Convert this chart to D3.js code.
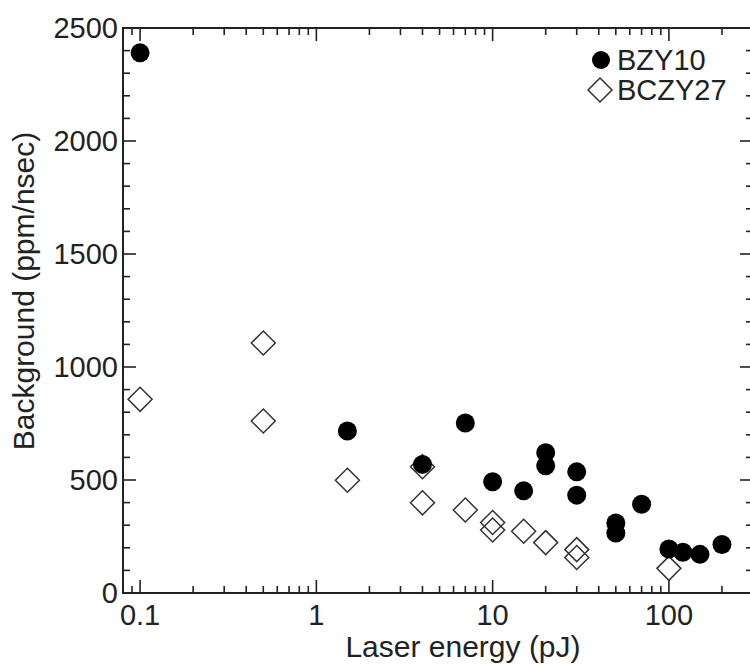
<!DOCTYPE html>
<html>
<head>
<meta charset="utf-8">
<script src="https://cdn.jsdelivr.net/npm/d3@7"></script>
<style>
  html, body { margin: 0; padding: 0; background: #fff; }
  svg { display: block; }
  text { font-family: "Liberation Sans", Arial, Helvetica, sans-serif; fill: #222; }
</style>
</head>
<body>
<svg id="chart" width="750" height="665"></svg>
<script>
// Background count rate vs. laser pulse energy for two proton conductors
const bzyEnergy     = [0.1, 1.5, 4, 7, 10, 15, 20, 20, 30, 30, 50, 50, 70, 100, 120, 150, 200];
const bzyBackground = [2390, 717, 569, 752, 492, 452, 621, 563, 536, 433, 310, 265, 393, 195, 180, 171, 215];

const bczyEnergy     = [0.1, 0.5, 0.5, 1.5, 4, 4, 7, 10, 10, 15, 20, 30, 30, 100];
const bczyBackground = [857, 1106, 761, 499, 559, 399, 367, 312, 279, 273, 223, 192, 157, 109];

const xTickLabels = ["0.1", "1", "10", "100"];
const yTickLabels = ["0", "500", "1000", "1500", "2000", "2500"];

const seriesNames = ["BZY10", "BCZY27"];

const W = 750, H = 665;
const margin = { left: 123, top: 28, right: 753, bottom: 593 };

const svg = d3.select("#chart");

const x = d3.scaleLog().domain([0.08, 300]).range([margin.left, margin.right]);
const y = d3.scaleLinear().domain([0, 2500]).range([margin.bottom, margin.top]);

const axisColor = "#222";
const majorLen = 13, minorLen = 7;

// log-axis tick positions: majors at decades, minors at 2..9 x decade
const xMajor = xTickLabels.map(Number);
const xMinor = [];
for (let d = -2; d <= 2; d++) {
  for (let k = 2; k <= 9; k++) {
    const v = k * Math.pow(10, d);
    if (v > 0.08 && v < 300) xMinor.push(+v.toPrecision(3));
  }
}
const yMajor = yTickLabels.map(Number);
const yMinor = d3.range(100, 2500, 100).filter(v => v % 500 !== 0);

// frame
const gAxes = svg.append("g");
gAxes.append("rect")
  .attr("x", margin.left).attr("y", margin.top)
  .attr("width", margin.right - margin.left)
  .attr("height", margin.bottom - margin.top)
  .attr("fill", "none").attr("stroke", axisColor).attr("stroke-width", 2);

// bottom/top ticks point inward
function xTicks(vals, len) {
  vals.forEach(v => {
    const px = x(v);
    gAxes.append("line").attr("x1", px).attr("x2", px)
      .attr("y1", margin.bottom).attr("y2", margin.bottom - len)
      .attr("stroke", axisColor).attr("stroke-width", 1.6);
    gAxes.append("line").attr("x1", px).attr("x2", px)
      .attr("y1", margin.top).attr("y2", margin.top + len)
      .attr("stroke", axisColor).attr("stroke-width", 1.6);
  });
}
xTicks(xMajor, majorLen);
xTicks(xMinor, minorLen);

// left/right ticks point inward
function yTicks(vals, len) {
  vals.forEach(v => {
    const py = y(v);
    gAxes.append("line").attr("x1", margin.left).attr("x2", margin.left + len)
      .attr("y1", py).attr("y2", py)
      .attr("stroke", axisColor).attr("stroke-width", 1.6);
    gAxes.append("line").attr("x1", margin.right).attr("x2", margin.right - len)
      .attr("y1", py).attr("y2", py)
      .attr("stroke", axisColor).attr("stroke-width", 1.6);
  });
}
yTicks(yMajor, majorLen);
yTicks(yMinor, minorLen);

// tick labels
svg.append("g").selectAll("text").data(xTickLabels).join("text")
  .attr("x", d => x(+d)).attr("y", 625)
  .attr("text-anchor", "middle").attr("font-size", 29)
  .text(d => d);

svg.append("g").selectAll("text").data(yTickLabels).join("text")
  .attr("x", margin.left - 5).attr("y", d => y(+d))
  .attr("dy", "0.35em")
  .attr("text-anchor", "end").attr("font-size", 29)
  .text(d => d);

// axis titles
svg.append("text")
  .attr("x", 463).attr("y", 657)
  .attr("text-anchor", "middle").attr("font-size", 30)
  .text("Laser energy (pJ)");

svg.append("text")
  .attr("transform", "translate(34,291) rotate(-90)")
  .attr("text-anchor", "middle").attr("font-size", 30)
  .text("Background (ppm/nsec)");

// markers
const diamond = (cx, cy, r) =>
  `M${cx},${cy - r}L${cx + r},${cy}L${cx},${cy + r}L${cx - r},${cy}Z`;

const bczy = bczyEnergy.map((e, i) => ({ e, v: bczyBackground[i] }));
const bzy = bzyEnergy.map((e, i) => ({ e, v: bzyBackground[i] }));

svg.append("g").selectAll("path").data(bczy).join("path")
  .attr("d", d => diamond(x(d.e), y(d.v), 12))
  .attr("fill", "#fff").attr("fill-opacity", 0)
  .attr("stroke", "#333").attr("stroke-width", 1.5);

svg.append("g").selectAll("circle").data(bzy).join("circle")
  .attr("cx", d => x(d.e)).attr("cy", d => y(d.v)).attr("r", 9.5)
  .attr("fill", "#000");

// legend
const leg = svg.append("g");
leg.append("circle").attr("cx", 601).attr("cy", 60).attr("r", 9).attr("fill", "#000");
leg.append("text").attr("x", 617).attr("y", 70).attr("font-size", 29).text(seriesNames[0]);
leg.append("path").attr("d", diamond(600, 90, 12))
  .attr("fill", "none").attr("stroke", "#333").attr("stroke-width", 1.5);
leg.append("text").attr("x", 617).attr("y", 100).attr("font-size", 29).text(seriesNames[1]);
</script>
</body>
</html>
